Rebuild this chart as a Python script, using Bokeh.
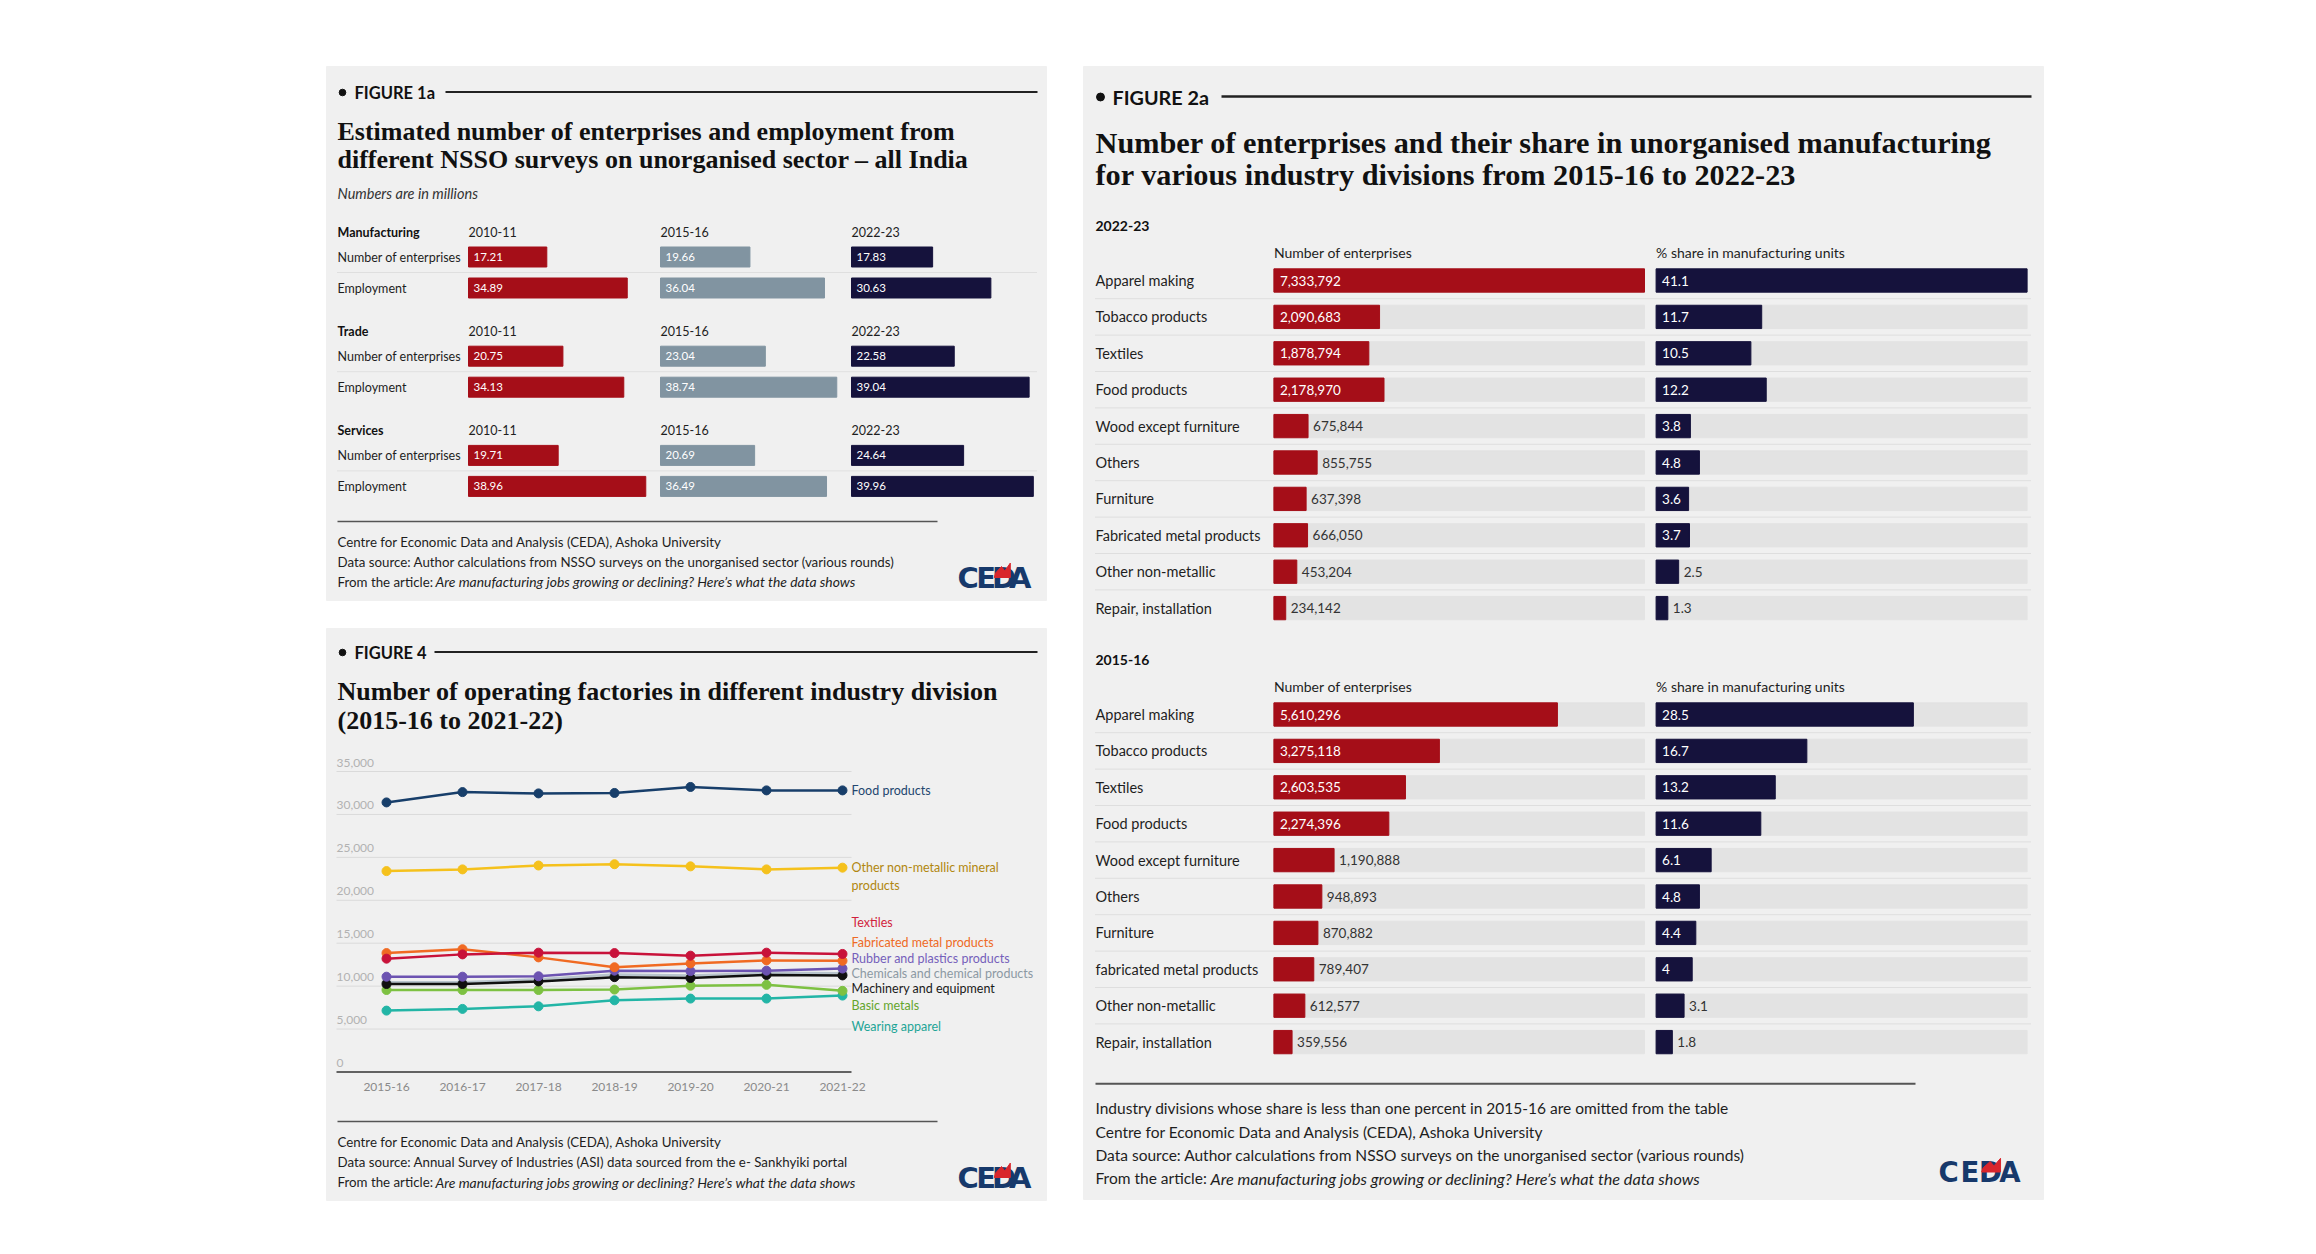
from bokeh.plotting import figure
from bokeh.models import Range1d
from bokeh.embed import file_html
from bokeh.resources import INLINE
from bokeh.core.properties import value

# ---------------- DATA ----------------
# Figure 1a (millions)
f1a_years = ["2010-11", "2015-16", "2022-23"]
f1a_sectors = ["Manufacturing", "Trade", "Services"]
f1a_measures = ["Number of enterprises", "Employment"]
mfg_enterprises = [17.21, 19.66, 17.83]
mfg_employment = [34.89, 36.04, 30.63]
trade_enterprises = [20.75, 23.04, 22.58]
trade_employment = [34.13, 38.74, 39.04]
services_enterprises = [19.71, 20.69, 24.64]
services_employment = [38.96, 36.49, 39.96]

# Figure 4 (number of operating factories)
f4_years = ["2015-16", "2016-17", "2017-18", "2018-19", "2019-20", "2020-21", "2021-22"]
f4_ticks = [0, 5000, 10000, 15000, 20000, 25000, 30000, 35000]
food_products = [31400, 32600, 32450, 32500, 33200, 32800, 32800]
other_non_metallic = [23400, 23600, 24050, 24200, 23950, 23600, 23800]
textiles = [13200, 13700, 13900, 13850, 13550, 13900, 13750]
fabricated_metal = [13850, 14300, 13350, 12200, 12650, 13000, 12950]
rubber_plastics = [11100, 11100, 11150, 11800, 11750, 11800, 12050]
chemicals = [10450, 10450, 10800, 11350, 11250, 11550, 11500]
machinery = [10250, 10250, 10550, 11050, 10950, 11300, 11250]
basic_metals = [9550, 9550, 9550, 9600, 10050, 10150, 9450]
wearing_apparel = [7150, 7350, 7650, 8350, 8550, 8550, 8900]

# Figure 2a
divisions_2223 = ["Apparel making", "Tobacco products", "Textiles", "Food products",
                  "Wood except furniture", "Others", "Furniture", "Fabricated metal products",
                  "Other non-metallic", "Repair, installation"]
enterprises_2223 = [7333792, 2090683, 1878794, 2178970, 675844, 855755, 637398, 666050, 453204, 234142]
share_2223 = [41.1, 11.7, 10.5, 12.2, 3.8, 4.8, 3.6, 3.7, 2.5, 1.3]
divisions_1516 = ["Apparel making", "Tobacco products", "Textiles", "Food products",
                  "Wood except furniture", "Others", "Furniture", "fabricated metal products",
                  "Other non-metallic", "Repair, installation"]
enterprises_1516 = [5610296, 3275118, 2603535, 2274396, 1190888, 948893, 870882, 789407, 612577, 359556]
share_1516 = [28.5, 16.7, 13.2, 11.6, 6.1, 4.8, 4.4, 4, 3.1, 1.8]

# ---------------- STYLE ----------------
SANS = "Lato"
SERIF = "Liberation Serif"
PANEL_BG = "#f0f0f0"
RED = "#a50e18"
GREY = "#8194a1"
NAVY = "#15123c"
TRACK = "#e3e3e3"
INK = "#1e1e1e"

W, H = 2300, 1238
X_ORIGIN, Y_ORIGIN = 0, 0   # page position of the canvas
p = figure(width=W, height=H, x_range=Range1d(X_ORIGIN, X_ORIGIN + W),
           y_range=Range1d(Y_ORIGIN + H, Y_ORIGIN),
           output_backend="svg", toolbar_location=None, min_border=0,
           x_axis_location=None, y_axis_location=None,
           background_fill_color="white", border_fill_color="white")
p.outline_line_color = None
p.xgrid.visible = False
p.ygrid.visible = False
XL, XR = X_ORIGIN, X_ORIGIN + W
YT, YB = Y_ORIGIN, Y_ORIGIN + H


def T(x, y, text, size, color=INK, font=SANS, style="normal", align="left",
      baseline="middle", **kw):
    if not isinstance(text, list):
        x, y, text = [x], [y], [text]
    p.text(x=x, y=y, text=text, text_font=value(font), text_font_size=f"{size}px",
           text_color=color, text_font_style=style, text_align=align,
           text_baseline=baseline, **kw)


def hline(x0, x1, y, color, width=1, dash="solid"):
    p.segment(x0=[x0], x1=[x1], y0=[y], y1=[y], line_color=color, line_width=width,
              line_dash=dash)


def logo(x0, y0, w, h):
    size = h * 1.45
    letters = [("C", 0.0), ("E", 0.235), ("D", 0.43), ("A", 0.645)]
    for ch, fx in letters:
        T(x0 + fx * w, y0 + h, ch, round(size, 1), color="#17396b", font="DejaVu Sans",
          style="bold", baseline="alphabetic")
    zx = [0.46, 0.475, 0.55, 0.59, 0.66, 0.66]
    zy = [1.0, 0.78, 0.45, 0.68, 0.28, 1.0]
    p.patch(x=[x0 + a * w for a in zx], y=[y0 + b * h for b in zy], color="#d9262c")


def figure_tag(x, y, label, size, line_from, line_to, lw):
    p.scatter(x=[x], y=[y], size=size * 0.4, color="#111111")
    T(x + 12, y, label, size, color="#111111", style="bold")
    hline(line_from, line_to, y - 0.5, "#222222", lw)


def footer(x, ys, lines, size, italic_x, italic_size):
    for yy, ln in zip(ys, lines):
        if ln.startswith("From the article: "):
            T(x, yy, "From the article:", size)
            T(italic_x, yy, ln[len("From the article: "):], italic_size, style="italic")
        else:
            T(x, yy, ln, size)


ARTICLE = "From the article: Are manufacturing jobs growing or declining? Here\u2019s what the data shows"
CEDA = "Centre for Economic Data and Analysis (CEDA), Ashoka University"

# ---------------- PANELS ----------------
p.quad(left=[326, 326, 1083], right=[1046, 1046, 2043], top=[66, 628, 66],
       bottom=[600, 1200, 1199], color=PANEL_BG)

# ================= FIGURE 1a =================
figure_tag(342, 92, "FIGURE 1a", 16.5, 445, 1037, 2)
T([337, 337], [131, 159],
  ["Estimated number of enterprises and employment from",
   "different NSSO surveys on unorganised sector \u2013 all India"],
  26, color="#111111", font=SERIF, style="bold")
T(337, 193, "Numbers are in millions", 14.5, color="#333333", style="italic")

F1_COLS = [468, 660, 851]
F1_K = 4.55  # px per million
F1_COLORS = [RED, GREY, NAVY]
p.extra_x_ranges = {}
for j, x0 in enumerate(F1_COLS):
    p.extra_x_ranges[f"f1a_{j}"] = Range1d((XL - x0) / F1_K, (XR - x0) / F1_K)

f1a_data = [(mfg_enterprises, mfg_employment), (trade_enterprises, trade_employment),
            (services_enterprises, services_employment)]
for s, (name, (ent, emp)) in enumerate(zip(f1a_sectors, f1a_data)):
    hy = 231.5 + s * 99.2
    rows = [hy + 25, hy + 56]
    T(337, hy, name, 12.5, color="#111111", style="bold")
    T(F1_COLS, [hy] * 3, f1a_years, 12.5)
    T([337, 337], rows, f1a_measures, 12.5)
    hline(337, 1037, hy + 40.5, "#cfcfcf", 1, "1 1")
    for j in range(3):
        vals = [ent[j], emp[j]]
        p.hbar(y=rows, left=0, right=vals, height=20, color=F1_COLORS[j],
               x_range_name=f"f1a_{j}")
        T([0, 0], rows, [f"{v:.2f}" for v in vals], 11.5, color="white",
          x_range_name=f"f1a_{j}", x_offset=5)

hline(337, 937, 521, "#555555", 1.5)
footer(337, [541, 561, 581],
       [CEDA, "Data source: Author calculations from NSSO surveys on the unorganised sector (various rounds)",
        ARTICLE], 13.3, 435, 13.9)
logo(957, 557, 80, 20)

# ================= FIGURE 4 =================
figure_tag(342, 652, "FIGURE 4", 16.5, 434, 1037, 2)
T([337, 337], [691, 720],
  ["Number of operating factories in different industry division",
   "(2015-16 to 2021-22)"], 26, color="#111111", font=SERIF, style="bold")

F4_X0, F4_DX = 386, 76.0          # pixel of first year, px per year
F4_Y0, F4_Y35 = 1071.5, 771.0     # pixel of 0 and 35,000
k4y = (F4_Y0 - F4_Y35) / 35000.0
p.extra_x_ranges["f4x"] = Range1d((XL - F4_X0) / F4_DX, (XR - F4_X0) / F4_DX)
p.extra_y_ranges = {"f4y": Range1d((F4_Y0 - YB) / k4y, (F4_Y0 - YT) / k4y)}

grid_ticks = [t for t in f4_ticks if t > 0]
p.segment(x0=[336] * len(grid_ticks), x1=[851] * len(grid_ticks), y0=grid_ticks,
          y1=grid_ticks, line_color="#dadada", line_width=1, y_range_name="f4y")
p.segment(x0=[336], x1=[851], y0=[0], y1=[0], line_color="#333333", line_width=1.5,
          y_range_name="f4y")
T([336] * len(f4_ticks), f4_ticks, [f"{t:,}" for t in f4_ticks], 12, color="#b2b2b2",
  y_range_name="f4y", y_offset=-9)
idx = list(range(len(f4_years)))
T(idx, [1086] * len(idx), f4_years, 12, color="#8a8a8a", align="center",
  x_range_name="f4x")

f4_series = [
    (other_non_metallic, "#f5c11c"),
    (food_products, "#173e6a"),
    (wearing_apparel, "#22b5a6"),
    (basic_metals, "#7dc142"),
    (chemicals, "#b8c4cc"),
    (machinery, "#101010"),
    (rubber_plastics, "#6c53b1"),
    (fabricated_metal, "#f06a22"),
    (textiles, "#c8123a"),
]
for vals, col in f4_series:
    p.line(x=idx, y=vals, line_color=col, line_width=2.5, x_range_name="f4x",
           y_range_name="f4y")
    p.scatter(x=idx, y=vals, size=9, color=col, x_range_name="f4x", y_range_name="f4y")

f4_labels = [
    ("Food products", 790.3, "#23466f"),
    ("Other non-metallic mineral", 867.3, "#b1870f"),
    ("products", 885.3, "#b1870f"),
    ("Textiles", 922.3, "#d11f3d"),
    ("Fabricated metal products", 942.3, "#ee6a25"),
    ("Rubber and plastics products", 958.3, "#7560bb"),
    ("Chemicals and chemical products", 973.3, "#8c99a3"),
    ("Machinery and equipment", 988.3, "#1a1a1a"),
    ("Basic metals", 1005.3, "#64a52c"),
    ("Wearing apparel", 1025.7, "#1ea597"),
]
for lab, yy, col in f4_labels:
    T(851, yy, lab, 12.5, color=col)

hline(337, 937, 1121, "#555555", 1.5)
footer(337, [1141, 1161, 1181.5],
       [CEDA, "Data source: Annual Survey of Industries (ASI) data sourced from the e- Sankhyiki portal",
        ARTICLE], 13.3, 435, 13.9)
logo(957, 1157, 80, 20)

# ================= FIGURE 2a =================
figure_tag(1100, 96.5, "FIGURE 2a", 19.8, 1221, 2031, 2.5)
T([1095, 1095], [142.7, 174.3],
  ["Number of enterprises and their share in unorganised manufacturing",
   "for various industry divisions from 2015-16 to 2022-23"],
  30.3, color="#111111", font=SERIF, style="bold")

R_X0, R_W = 1273.4, 370.6
N_X0, N_W = 1655.6, 371.0
max_ent = max(enterprises_2223 + enterprises_1516)
max_share = max(share_2223 + share_1516)
kr = R_W / max_ent
kn = N_W / max_share
p.extra_x_ranges["f2r"] = Range1d((XL - R_X0) / kr, (XR - R_X0) / kr)
p.extra_x_ranges["f2n"] = Range1d((XL - N_X0) / kn, (XR - N_X0) / kn)

PITCH, BAR_H = 36.4, 23.3
f2_sections = [("2022-23", divisions_2223, enterprises_2223, share_2223, 225.3),
               ("2015-16", divisions_1516, enterprises_1516, share_1516, 659.3)]
for label, divs, ents, shares, hy in f2_sections:
    T(1095, hy, label, 14, color="#111111", style="bold")
    T([R_X0, N_X0], [hy + 26.4] * 2, ["Number of enterprises", "% share in manufacturing units"], 14)
    rows = [hy + 54.7 + i * PITCH for i in range(len(divs))]
    for r in rows[:-1]:
        hline(1095, 2031, r + 18.2, "#cdcdcd", 1, "1 1")
    T([1095] * len(rows), rows, divs, 14.5)
    p.hbar(y=rows, left=0, right=max_ent, height=BAR_H, color=TRACK, x_range_name="f2r")
    p.hbar(y=rows, left=0, right=max_share, height=BAR_H, color=TRACK, x_range_name="f2n")
    p.hbar(y=rows, left=0, right=ents, height=BAR_H, color=RED, x_range_name="f2r")
    p.hbar(y=rows, left=0, right=shares, height=BAR_H, color=NAVY, x_range_name="f2n")
    # value labels: inside (white) for long bars, outside (dark) for short ones
    for vals, fmt, mx, thr, rng in [(ents, "{:,}", max_ent, 0.2, "f2r"),
                                    (shares, "{:g}", max_share, 0.08, "f2n")]:
        ins = [(r, fmt.format(v)) for r, v in zip(rows, vals) if v / mx > thr]
        outs = [(r, v, fmt.format(v)) for r, v in zip(rows, vals) if v / mx <= thr]
        if ins:
            T([0] * len(ins), [a for a, _ in ins], [b for _, b in ins], 13.5,
              color="white", x_range_name=rng, x_offset=6)
        if outs:
            T([v for _, v, _ in outs], [a for a, _, _ in outs], [c for _, _, c in outs],
              13.5, color="#333333", x_range_name=rng, x_offset=5)

hline(1095, 1915, 1083.3, "#555555", 2)
footer(1095, [1107.7, 1131, 1154.3, 1177.7],
       ["Industry divisions whose share is less than one percent in 2015-16 are omitted from the table",
        CEDA,
        "Data source: Author calculations from NSSO surveys on the unorganised sector (various rounds)",
        ARTICLE], 15.5, 1210, 16.2)
logo(1938, 1152.5, 94, 19)

open("out.html", "w").write(file_html(p, INLINE))
